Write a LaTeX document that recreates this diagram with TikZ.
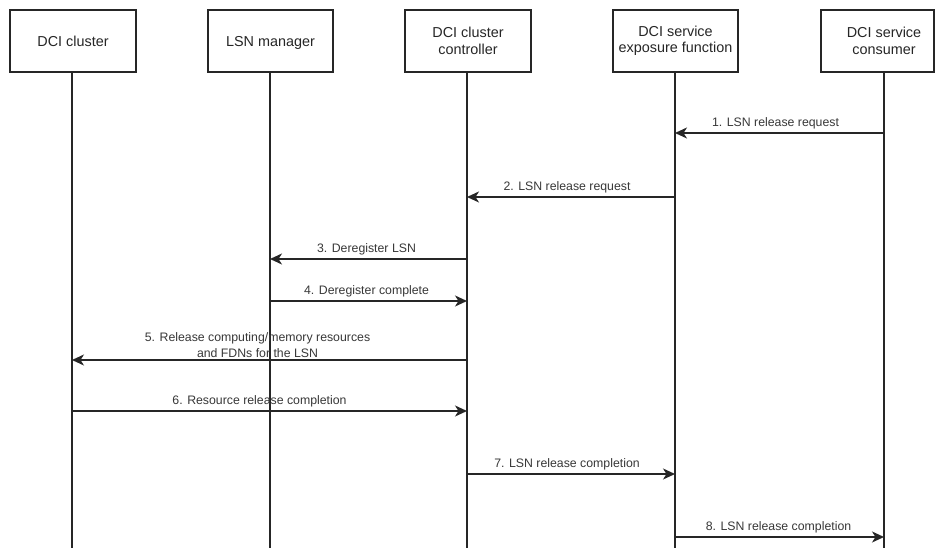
\documentclass[tikz,border=0pt]{standalone}
\usepackage{fontspec}
\setmainfont{Liberation Sans}
\usetikzlibrary{arrows.meta,calc}
\begin{document}
\begin{tikzpicture}[x=1pt,y=1pt,
  actorbox/.style={draw=black!85, line width=1.5pt, fill=white, minimum height=62pt,
    inner sep=0pt, align=center, font=\fontsize{14.4}{16.5}\selectfont, text=black!85},
  oneline/.style={text height=10.3pt, text depth=0pt},
  lifeline/.style={draw=black!85, line width=1.5pt},
  msg/.style={draw=black!85, line width=1.5pt, -{Stealth[length=12pt,width=11pt,inset=3.5pt]}},
  msglabel/.style={font=\fontsize{12.3}{16}\selectfont, text=black!78, align=center, inner sep=0pt}]
\useasboundingbox (0,0) rectangle (935,-548);
\fill[white] (0,0) rectangle (935,-548);

% participant boxes
\node[actorbox, oneline, minimum width=126pt] (b1) at (73,-41) {DCI cluster};
\node[actorbox, oneline, minimum width=125pt] (b2) at (270.5,-41) {LSN manager};
\node[actorbox, minimum width=126pt] (b3) at (468,-41) {DCI cluster\\controller};
\node[actorbox, minimum width=125pt] (b4) at (675.5,-41) {DCI service\\exposure function};
\node[actorbox, minimum width=113pt] (b5) at (877.5,-41) {};
\node[actorbox, draw=none, fill=none] (b5t) at (884,-41) {DCI service\\consumer};

% lifelines
\coordinate (bottom) at (0,-548);
\coordinate (l1) at (72,-72);
\coordinate (l2) at (270,-72);
\coordinate (l3) at (467,-72);
\coordinate (l4) at (675,-72);
\coordinate (l5) at (884,-72);
\foreach \l in {l1,l2,l3,l4,l5}
  \draw[lifeline] (\l) -- (\l |- bottom);

% message rows
\coordinate (y1) at (0,-133);
\coordinate (y2) at (0,-197);
\coordinate (y3) at (0,-259);
\coordinate (y4) at (0,-301);
\coordinate (y5) at (0,-360);
\coordinate (y6) at (0,-411);
\coordinate (y7) at (0,-474);
\coordinate (y8) at (0,-537);

\draw[msg] (l5 |- y1) -- node[msglabel, above=3pt, xshift=-4pt] {1. LSN release request} (l4 |- y1);
\draw[msg] (l4 |- y2) -- node[msglabel, above=3pt, xshift=-4pt] {2. LSN release request} (l3 |- y2);
\draw[msg] (l3 |- y3) -- node[msglabel, above=3pt, xshift=-2pt] {3. Deregister LSN} (l2 |- y3);
\draw[msg] (l2 |- y4) -- node[msglabel, above=3pt, xshift=-2pt] {4. Deregister complete} (l3 |- y4);
\draw[msg] (l3 |- y5) -- node[msglabel, above=2pt, xshift=-12pt] {5. Release computing/memory resources\\and FDNs for the LSN} (l1 |- y5);
\draw[msg] (l1 |- y6) -- node[msglabel, above=3pt, xshift=-10pt] {6. Resource release completion} (l3 |- y6);
\draw[msg] (l3 |- y7) -- node[msglabel, above=3pt, xshift=-4pt] {7. LSN release completion} (l4 |- y7);
\draw[msg] (l4 |- y8) -- node[msglabel, above=3pt, xshift=-1pt] {8. LSN release completion} (l5 |- y8);
\end{tikzpicture}
\end{document}
